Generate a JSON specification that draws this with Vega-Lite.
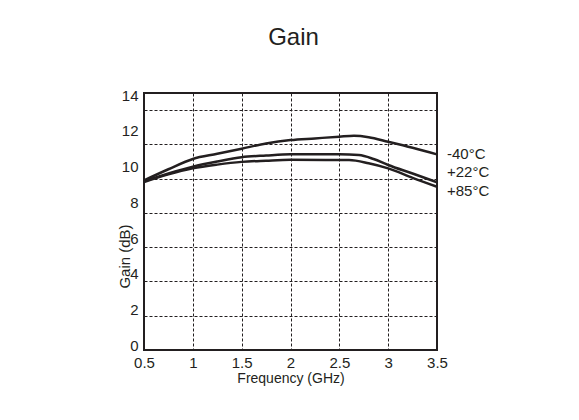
{
  "$schema": "https://vega.github.io/schema/vega-lite/v6.json",
  "width": 293,
  "height": 257,
  "autosize": {"type": "none"},
  "padding": {"left": 144, "top": 93, "right": 142, "bottom": 70},
  "background": "white",
  "title": {"text": "Gain", "fontSize": 24, "font": "Liberation Sans", "fontWeight": "normal", "color": "#231f20", "offset": 38, "dx": 3},
  "config": {"view": {"stroke": "#231f20", "strokeWidth": 2}, "font": "Liberation Sans"},
  "datasets": {
    "curves": [
      {"temp": "-40°C", "freq": 0.5, "gain": 9.9},
      {"temp": "-40°C", "freq": 0.75, "gain": 10.55},
      {"temp": "-40°C", "freq": 1.0, "gain": 11.15},
      {"temp": "-40°C", "freq": 1.25, "gain": 11.45},
      {"temp": "-40°C", "freq": 1.5, "gain": 11.75},
      {"temp": "-40°C", "freq": 1.75, "gain": 12.05},
      {"temp": "-40°C", "freq": 2.0, "gain": 12.25},
      {"temp": "-40°C", "freq": 2.25, "gain": 12.35},
      {"temp": "-40°C", "freq": 2.5, "gain": 12.45},
      {"temp": "-40°C", "freq": 2.65, "gain": 12.5},
      {"temp": "-40°C", "freq": 2.8, "gain": 12.42},
      {"temp": "-40°C", "freq": 3.0, "gain": 12.15},
      {"temp": "-40°C", "freq": 3.25, "gain": 11.8},
      {"temp": "-40°C", "freq": 3.5, "gain": 11.42},
      {"temp": "+22°C", "freq": 0.5, "gain": 9.85},
      {"temp": "+22°C", "freq": 0.75, "gain": 10.3},
      {"temp": "+22°C", "freq": 1.0, "gain": 10.7},
      {"temp": "+22°C", "freq": 1.25, "gain": 11.0},
      {"temp": "+22°C", "freq": 1.5, "gain": 11.25},
      {"temp": "+22°C", "freq": 1.75, "gain": 11.35},
      {"temp": "+22°C", "freq": 2.0, "gain": 11.42},
      {"temp": "+22°C", "freq": 2.5, "gain": 11.42},
      {"temp": "+22°C", "freq": 2.7, "gain": 11.38},
      {"temp": "+22°C", "freq": 2.85, "gain": 11.15},
      {"temp": "+22°C", "freq": 3.0, "gain": 10.8},
      {"temp": "+22°C", "freq": 3.25, "gain": 10.3},
      {"temp": "+22°C", "freq": 3.5, "gain": 9.79},
      {"temp": "+85°C", "freq": 0.5, "gain": 9.8},
      {"temp": "+85°C", "freq": 0.75, "gain": 10.25},
      {"temp": "+85°C", "freq": 1.0, "gain": 10.6},
      {"temp": "+85°C", "freq": 1.25, "gain": 10.82},
      {"temp": "+85°C", "freq": 1.5, "gain": 10.98},
      {"temp": "+85°C", "freq": 1.75, "gain": 11.05},
      {"temp": "+85°C", "freq": 2.0, "gain": 11.1},
      {"temp": "+85°C", "freq": 2.6, "gain": 11.09},
      {"temp": "+85°C", "freq": 2.8, "gain": 10.9},
      {"temp": "+85°C", "freq": 3.0, "gain": 10.6},
      {"temp": "+85°C", "freq": 3.25, "gain": 10.05},
      {"temp": "+85°C", "freq": 3.5, "gain": 9.53}
    ],
    "labels": [
      {"temp": "-40°C", "freq": 3.5, "gain": 11.44},
      {"temp": "+22°C", "freq": 3.5, "gain": 10.39},
      {"temp": "+85°C", "freq": 3.5, "gain": 9.28}
    ]
  },
  "encoding": {
    "x": {
      "field": "freq", "type": "quantitative",
      "scale": {"domain": [0.5, 3.5], "nice": false, "zero": false},
      "axis": {
        "title": "Frequency (GHz)", "values": [0.5, 1, 1.5, 2, 2.5, 3, 3.5], "format": "~g",
        "labelFontSize": 15, "labelColor": "#231f20", "labelFont": "Liberation Sans", "labelFlush": false,
        "titleFontSize": 14, "titleFontWeight": "normal", "titleColor": "#231f20", "titleFont": "Liberation Sans",
        "ticks": false, "domain": false, "grid": true, "gridDash": [3, 2], "gridColor": "#231f20", "gridWidth": 1,
        "labelPadding": 5, "titlePadding": 1
      }
    },
    "y": {
      "field": "gain", "type": "quantitative",
      "scale": {"domain": [0, 15], "nice": false},
      "axis": {
        "title": "Gain (dB)", "values": [0, 2, 4, 6, 8, 10, 12, 14],
        "labelFontSize": 15, "labelColor": "#231f20", "labelFont": "Liberation Sans", "labelFlush": false,
        "labelOffset": {"expr": "-4.5 - 0.75 * datum.value"},
        "titleFontSize": 15, "titleFontWeight": "normal", "titleColor": "#231f20", "titleFont": "Liberation Sans",
        "titleX": -20, "titleY": 163, "titleBaseline": "middle", "titleAlign": "center",
        "ticks": false, "domain": false, "grid": true, "gridDash": [3, 2], "gridColor": "#231f20", "gridWidth": 1,
        "labelPadding": 6
      }
    }
  },
  "layer": [
    {
      "data": {"name": "curves"},
      "mark": {"type": "line", "color": "#231f20", "strokeWidth": 2.5, "interpolate": "monotone"},
      "encoding": {"detail": {"field": "temp"}}
    },
    {
      "data": {"name": "labels"},
      "mark": {"type": "text", "align": "left", "baseline": "middle", "dx": 10, "fontSize": 15, "font": "Liberation Sans", "color": "#231f20"},
      "encoding": {"text": {"field": "temp"}}
    }
  ]
}
